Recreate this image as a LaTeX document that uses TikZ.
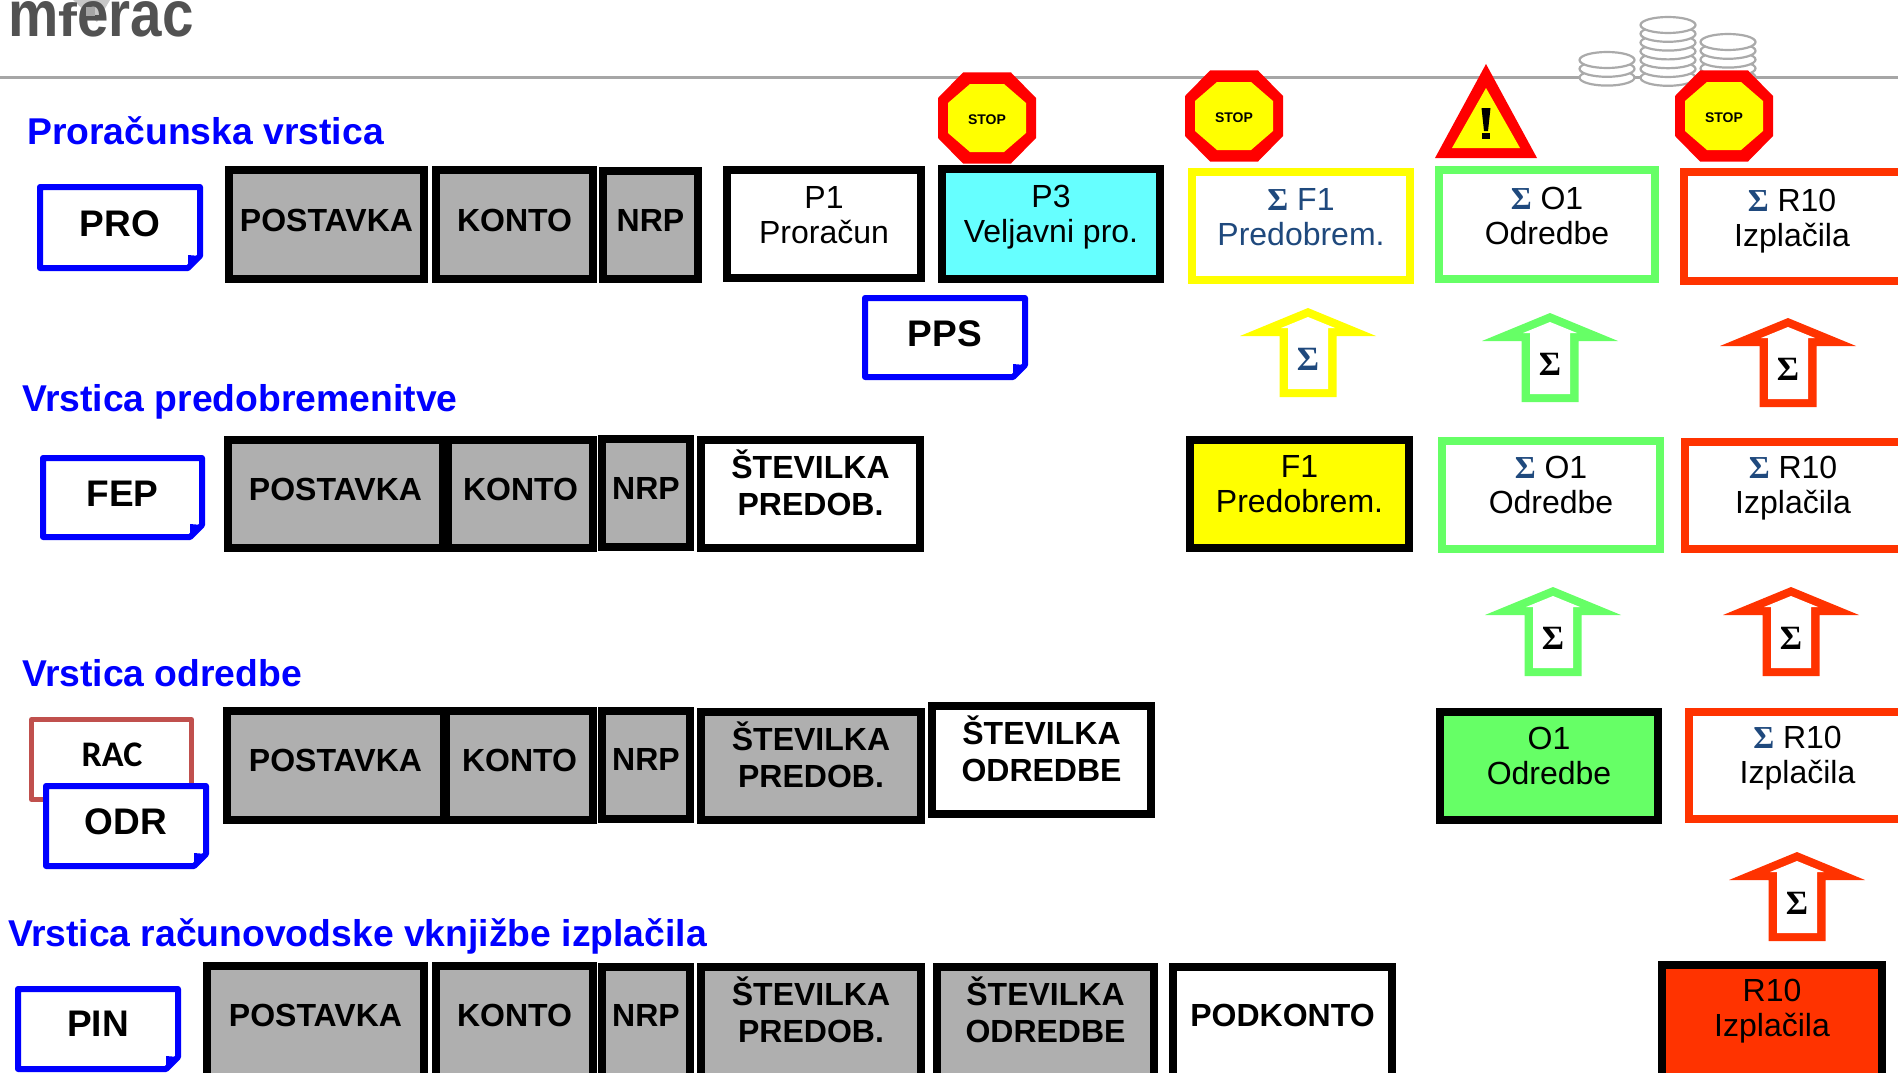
\documentclass[tikz,border=0pt]{standalone}
\usepackage{fontspec}
\setmainfont{Liberation Sans}
\newfontfamily\sigfont{Liberation Serif}
\newfontfamily\racfont{Carlito}
\usetikzlibrary{calc}
\definecolor{blu}{RGB}{0,0,255}
\definecolor{gfill}{RGB}{175,175,175}
\definecolor{cy}{RGB}{102,255,255}
\definecolor{yel}{RGB}{255,255,0}
\definecolor{grn}{RGB}{102,255,102}
\definecolor{rd}{RGB}{255,51,0}
\definecolor{navy}{RGB}{31,73,125}
\definecolor{rac}{RGB}{192,80,77}
\definecolor{linegray}{RGB}{166,166,166}
\definecolor{coin}{RGB}{170,170,170}
\tikzset{
  base/.style={draw,rectangle,inner sep=0pt,outer sep=0pt,line width=8pt,draw=black,fill=white},
  grey/.style={base,fill=gfill},
  cyan box/.style={base,fill=cy},
  yelline/.style={base,draw=yel},
  grnline/.style={base,draw=grn},
  redline/.style={base,draw=rd},
  yelfill/.style={base,fill=yel},
  grnfill/.style={base,fill=grn},
  redfill/.style={base,fill=rd},
  boldtxt/.style={font=\bfseries\fontsize{32}{37.5}\selectfont,align=center,inner sep=0pt},
  regtxt/.style={font=\fontsize{32}{35}\selectfont,align=center,inner sep=0pt},
  notetxt/.style={font=\bfseries\fontsize{37}{40}\selectfont,inner sep=0pt},
  rowlabel/.style={font=\bfseries\fontsize{37.3}{42}\selectfont,text=blu,anchor=base west,inner sep=0pt},
  stoptxt/.style={font=\bfseries\fontsize{14}{16}\selectfont,inner sep=0pt},
  arrowsig/.style={font=\sigfont\bfseries\fontsize{34}{36}\selectfont,inner sep=0pt},
  notepath/.style={draw=blu,line width=6pt,fill=white,line join=round},
}
\newcommand{\sg}{{\sigfont\bfseries\color{navy}Σ}}
% style, name, x0,y0,x1,y1, text y, text style, text
\newcommand{\bx}[9]{%
  \pgfmathsetmacro{\wa}{#5-#3-8}\pgfmathsetmacro{\ha}{#6-#4-8}%
  \pgfmathsetmacro{\cxa}{(#3+#5)/2}\pgfmathsetmacro{\cya}{(#4+#6)/2}%
  \node[#1,minimum width=\wa pt,minimum height=\ha pt] (#2) at (\cxa,\cya) {};
  \node[#8] (#2t) at (\cxa,#7) {#9};
}
% name, x0,y0,x1,y1, text, text y
\newcommand{\nt}[7]{%
  \draw[notepath] (#2+3,#3+3) -- (#4-3,#3+3) -- (#4-3,#5-15) -- (#4-15,#5-3) -- (#2+3,#5-3) -- cycle;
  \fill[blu] (#4-3,#5-15) -- (#4-15,#5-16) -- (#4-15,#5-3) -- cycle;
  \pgfmathsetmacro{\cxa}{(#2+#4)/2}%
  \node[notetxt] (#1) at (\cxa,#7) {#6};
}
% colour, apex x, apex y, symbol colour, name
\newcommand{\arw}[5]{%
  \fill[#1] (#2,#3) -- (#2+68,#3+28) -- (#2+28.5,#3+28) -- (#2+28.5,#3+89) -- (#2-28.5,#3+89) -- (#2-28.5,#3+28) -- (#2-68,#3+28) -- cycle;
  \fill[white] (#2,#3+9) -- (#2+27,#3+20) -- (#2+20,#3+20) -- (#2+20,#3+81) -- (#2-20,#3+81) -- (#2-20,#3+20) -- (#2-27,#3+20) -- cycle;
  \node[arrowsig,text=#4] (#5) at (#2,#3+51) {Σ};
}
% name, cx, cy
\newcommand{\stp}[3]{%
  \fill[red] (#2-24,#3-45.5) -- (#2+24,#3-45.5) -- (#2+49,#3-20) -- (#2+49,#3+20) -- (#2+24,#3+45.5) -- (#2-24,#3+45.5) -- (#2-49,#3+20) -- (#2-49,#3-20) -- cycle;
  \fill[yel] (#2-17,#3-34) -- (#2+17,#3-34) -- (#2+39,#3-15) -- (#2+39,#3+15) -- (#2+17,#3+34) -- (#2-17,#3+34) -- (#2-39,#3+15) -- (#2-39,#3-15) -- cycle;
  \node[stoptxt] (#1) at (#2,#3+2) {STOP};
}
% cx, ctop, n
\newcommand{\coins}[3]{%
  \foreach \k in {#3,...,0}{%
    \pgfmathsetmacro{\cyb}{#2+8.8*\k}%
    \draw[coin,line width=2.2pt,fill=white] (#1,\cyb) ellipse [x radius=27.5,y radius=8];
  }
}
\begin{document}
\begin{tikzpicture}[x=1pt,y=-1pt]
\useasboundingbox (0,0) rectangle (1898,1073);
% logo
\fill[black!22] (73,0) -- (110,0) -- (97,22) -- (88,14) -- cycle;
\node[font=\bfseries\fontsize{65}{66}\selectfont,text=black!68,anchor=base west,inner sep=0pt,xscale=.87] (logo) at (8,37) {m\scalebox{1}[.72]{f}erac};
\fill[black!35] (86,7) rectangle (95,16);
% header
\draw[linegray,line width=3pt] (0,78) -- (1898,78);
\coins{1607}{60}{2}
\coins{1728}{42}{4}
\coins{1668}{25}{6}
% row labels
\node[rowlabel] (l1) at (27,144) {Proračunska vrstica};
\node[rowlabel] (l2) at (22,411) {Vrstica predobremenitve};
\node[rowlabel] (l3) at (22,686) {Vrstica odredbe};
\node[rowlabel] (l4) at (8,946) {Vrstica računovodske vknjižbe izplačila};
% row 1
\nt{pro}{37}{184}{203}{271}{PRO}{224}
\bx{grey}{a1}{225}{166}{428}{283}{220}{boldtxt}{POSTAVKA}
\bx{grey}{a2}{432}{166}{597}{283}{220}{boldtxt}{KONTO}
\bx{grey}{a3}{599}{167}{702}{283}{220}{boldtxt}{NRP}
\bx{base}{a4}{723}{166}{925}{282}{215}{regtxt}{P1\\Proračun}
\bx{cyan box}{a5}{938}{165}{1164}{283}{217}{regtxt}{P3\\Veljavni pro.}
\bx{yelline}{a6}{1188}{168}{1414}{284}{217}{regtxt}{\textcolor{navy}{\sg{} F1}\\\textcolor{navy}{Predobrem.}}
\bx{grnline}{a7}{1435}{166}{1659}{283}{216}{regtxt}{\sg{} O1\\Odredbe}
\bx{redline}{a8}{1680}{168}{1912}{285}{221}{regtxt,xshift=-4pt}{\sg{} R10\\Izplačila}
\nt{pps}{862}{295}{1028}{380}{PPS}{334}
\arw{yel}{1308}{308}{navy}{s1}
\arw{grn}{1550}{313}{black}{s2}
\arw{rd}{1788}{318}{black}{s3}
% row 2
\nt{fep}{40}{455}{205}{540}{FEP}{494}
\bx{grey}{b1}{224}{436}{447}{552}{489}{boldtxt}{POSTAVKA}
\bx{grey}{b2}{444}{436}{597}{552}{489}{boldtxt}{KONTO}
\bx{grey}{b3}{598}{435}{694}{551}{488}{boldtxt}{NRP}
\bx{base}{b4}{697}{436}{924}{552}{482.6}{boldtxt}{ŠTEVILKA\\PREDOB.}
\bx{yelfill}{b5}{1186}{436}{1413}{552}{484}{regtxt}{F1\\Predobrem.}
\bx{grnline}{b6}{1438}{437}{1664}{553}{485}{regtxt}{\sg{} O1\\Odredbe}
\bx{redline}{b7}{1681}{438}{1912}{553}{488}{regtxt,xshift=-3.5pt}{\sg{} R10\\Izplačila}
\arw{grn}{1553}{587}{black}{s4}
\arw{rd}{1791}{587}{black}{s5}
% row 3
\draw[rac,line width=5pt,fill=white,line join=round] (31.5,719.5) rectangle (191.5,799.5);
\node[font=\racfont\bfseries\fontsize{36}{40}\selectfont,inner sep=0pt] (rac) at (112,755) {RAC};
\nt{odr}{43}{783}{209}{869}{ODR}{822}
\bx{grey}{c1}{223}{707}{448}{824}{760}{boldtxt}{POSTAVKA}
\bx{grey}{c2}{442}{707}{597}{824}{760}{boldtxt}{KONTO}
\bx{grey}{c3}{598}{707}{694}{823}{759}{boldtxt}{NRP}
\bx{grey}{c4}{697}{708}{925}{824}{754.6}{boldtxt}{ŠTEVILKA\\PREDOB.}
\bx{base}{c5}{928}{702}{1155}{818}{748.6}{boldtxt}{ŠTEVILKA\\ODREDBE}
\bx{grnfill}{c6}{1436}{708}{1662}{824}{756}{regtxt}{O1\\Odredbe}
\bx{redline}{c7}{1685}{708}{1910}{823}{758}{regtxt}{\sg{} R10\\Izplačila}
\arw{rd}{1797}{852}{black}{s6}
% row 4
\nt{pin}{15}{986}{181}{1072}{PIN}{1024}
\bx{grey}{d1}{203}{962}{428}{1085}{1015}{boldtxt}{POSTAVKA}
\bx{grey}{d2}{432}{962}{597}{1085}{1015}{boldtxt}{KONTO}
\bx{grey}{d3}{598}{963}{694}{1085}{1015}{boldtxt}{NRP}
\bx{grey}{d4}{697}{963}{925}{1085}{1009.6}{boldtxt}{ŠTEVILKA\\PREDOB.}
\bx{grey}{d5}{933}{963}{1158}{1085}{1009.6}{boldtxt}{ŠTEVILKA\\ODREDBE}
\bx{base}{d6}{1169}{963}{1396}{1085}{1015}{boldtxt}{PODKONTO}
\bx{redfill}{d7}{1658}{961}{1886}{1085}{1011}{regtxt}{R10\\Izplačila}
% signs
\stp{st1}{987}{118}
\stp{st2}{1234}{116}
\stp{st3}{1724}{116}
\fill[red] (1486,64) -- (1537,158) -- (1435,158) -- cycle;
\fill[yel] (1486,88) -- (1520,148) -- (1452,148) -- cycle;
\fill[black] (1481.5,108) -- (1490.5,108) -- (1488,131) -- (1484,131) -- cycle;
\fill[black] (1482,133) rectangle (1490,139);
\end{tikzpicture}
\end{document}
